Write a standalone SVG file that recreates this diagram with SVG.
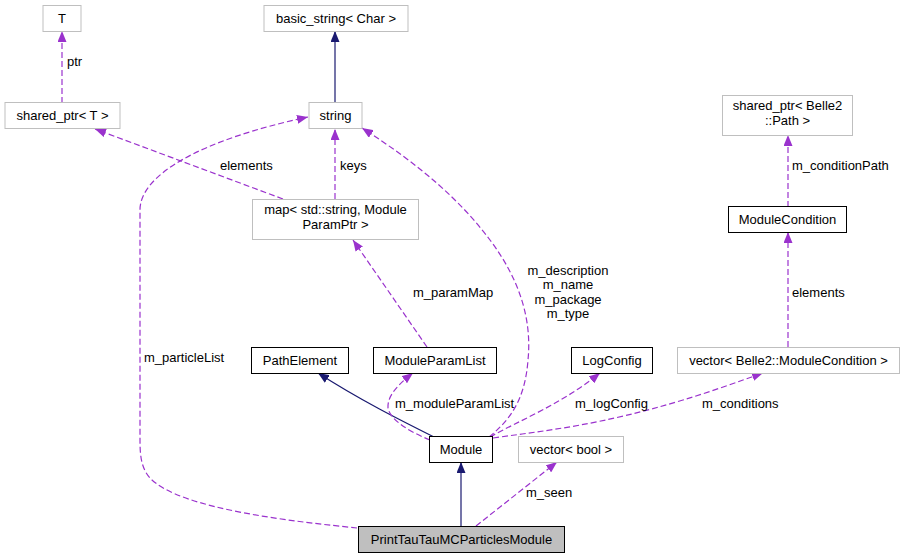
<svg xmlns="http://www.w3.org/2000/svg" width="905" height="557" viewBox="0 0 905 557">
<style>
text{font-family:"Liberation Sans",Arial,sans-serif;font-size:13px;fill:#000}
.n{text-anchor:middle}
.u{fill:#fff;stroke:#bfbfbf;stroke-width:1}
.d{fill:#fff;stroke:#000;stroke-width:1}
.c{fill:#bfbfbf;stroke:#000;stroke-width:1}
.inh{fill:none;stroke:#191970;stroke-width:1.2;marker-end:url(#an)}
.use{fill:none;stroke:#9a32cd;stroke-width:1.2;stroke-dasharray:6,3;marker-end:url(#ap)}
</style>
<defs>
<marker id="an" viewBox="0 0 11 9" refX="11" refY="4.5" markerWidth="11" markerHeight="9" markerUnits="userSpaceOnUse" orient="auto"><path d="M0,0 L11,4.5 L0,9 z" fill="#191970"/></marker>
<marker id="ap" viewBox="0 0 11 9" refX="11" refY="4.5" markerWidth="11" markerHeight="9" markerUnits="userSpaceOnUse" orient="auto"><path d="M0,0 L11,4.5 L0,9 z" fill="#9a32cd"/></marker>
</defs>
<rect width="905" height="557" fill="#fff"/>
<g id="connectors">
<path class="use" d="M62,103 L62,31"/>
<path class="inh" d="M335,103 L335,31"/>
<path class="use" d="M283,199 L95,129"/>
<path class="use" d="M335,199 L335,129"/>
<path class="use" d="M427,347 L353,240"/>
<path class="use" d="M489,437 C510,420 525,400 528,360 C532,320 520,280 490,240 C460,200 420,165 362,128"/>
<path class="use" d="M357,528 C300,522 180,510 150,478 C141,468 140,455 140,440 L140,210 C140,175 200,140 308,117"/>
<path class="inh" d="M434,437 C400,420 360,400 318,373"/>
<path class="use" d="M430,440 C410,432 390,420 388,408 C387,395 400,383 413,373"/>
<path class="use" d="M490,437 C520,420 560,405 600,373"/>
<path class="use" d="M493,438 C550,430 600,425 683,400 C710,392 740,381 763,373"/>
<path class="use" d="M788,347 L788,232"/>
<path class="use" d="M788,207 L788,135"/>
<path class="inh" d="M461,526 L461,462"/>
<path class="use" d="M476,526 L557,462"/>
</g>
<g id="labels">
<text x="67" y="66">ptr</text>
<text x="220" y="170">elements</text>
<text x="340" y="170">keys</text>
<text x="413" y="297">m_paramMap</text>
<text x="144" y="362">m_particleList</text>
<text x="395" y="408">m_moduleParamList</text>
<text x="575" y="408">m_logConfig</text>
<text x="702" y="408">m_conditions</text>
<text x="526" y="497">m_seen</text>
<text x="792" y="297">elements</text>
<text x="792" y="170">m_conditionPath</text>
<text class="n" x="568" y="275">m_description</text>
<text class="n" x="568" y="289">m_name</text>
<text class="n" x="568" y="304">m_package</text>
<text class="n" x="568" y="318">m_type</text>
</g>
<g id="T"><rect class="u" x="43" y="5.5" width="38" height="26"/><text class="n" x="62" y="23">T</text></g>
<g id="basic_string"><rect class="u" x="264" y="5.5" width="144" height="26"/><text class="n" x="336" y="23">basic_string&lt; Char &gt;</text></g>
<g id="shared_ptr_T"><rect class="u" x="5" y="102.5" width="115" height="26"/><text class="n" x="62.5" y="120">shared_ptr&lt; T &gt;</text></g>
<g id="string"><rect class="u" x="309" y="102.5" width="53" height="26"/><text class="n" x="335.5" y="120">string</text></g>
<g id="map"><rect class="u" x="252.5" y="199.5" width="166" height="40"/><text class="n" x="335.5" y="214">map&lt; std::string, Module</text><text class="n" x="335.5" y="229">ParamPtr &gt;</text></g>
<g id="shared_ptr_Path"><rect class="u" x="722.5" y="95.5" width="130" height="40"/><text class="n" x="787.5" y="110">shared_ptr&lt; Belle2</text><text class="n" x="787.5" y="125">::Path &gt;</text></g>
<g id="ModuleCondition"><rect class="d" x="728.5" y="206.5" width="118" height="26"/><text class="n" x="787.5" y="224">ModuleCondition</text></g>
<g id="PathElement"><rect class="d" x="251.5" y="347.5" width="97" height="26"/><text class="n" x="300" y="365">PathElement</text></g>
<g id="ModuleParamList"><rect class="d" x="373.5" y="347.5" width="123" height="26"/><text class="n" x="435" y="365">ModuleParamList</text></g>
<g id="LogConfig"><rect class="d" x="571.5" y="347.5" width="81" height="26"/><text class="n" x="612" y="365">LogConfig</text></g>
<g id="vector_MC"><rect class="u" x="677.5" y="347.5" width="222" height="26"/><text class="n" x="788.5" y="365">vector&lt; Belle2::ModuleCondition &gt;</text></g>
<g id="Module"><rect class="d" x="429.5" y="436.5" width="63" height="26"/><text class="n" x="461" y="454">Module</text></g>
<g id="vector_bool"><rect class="u" x="518.5" y="436.5" width="105" height="26"/><text class="n" x="571" y="454">vector&lt; bool &gt;</text></g>
<g id="PrintTauTauMCParticlesModule"><rect class="c" x="358.5" y="526.5" width="206" height="26"/><text class="n" x="461.5" y="544">PrintTauTauMCParticlesModule</text></g>
</svg>
